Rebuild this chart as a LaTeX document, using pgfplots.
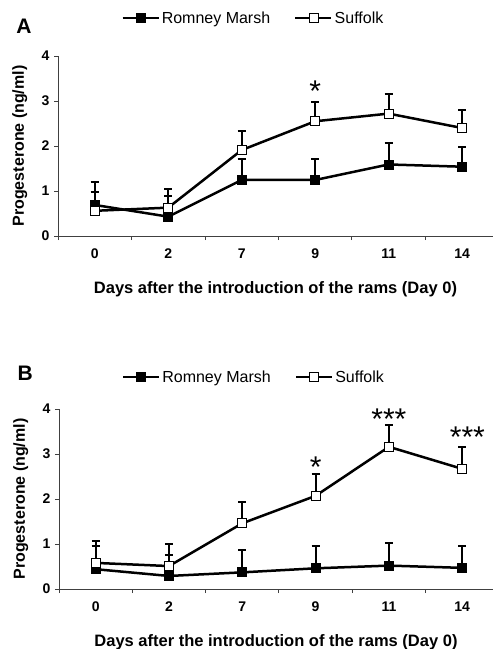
\documentclass[border=0pt]{standalone}
\usepackage{pgfplots}
\pgfplotsset{compat=1.18}
\usepackage{pgfplotstable}
\usepackage{fontspec}
\setmainfont{Liberation Sans}

\pgfplotstableread{
x y e
0 0.69 0.50
1 0.43 0.47
2 1.245 0.475
3 1.245 0.475
4 1.59 0.48
5 1.54 0.44
}\romA
\pgfplotstableread{
x y e
0 0.56 0.42
1 0.63 0.42
2 1.91 0.43
3 2.55 0.43
4 2.72 0.44
5 2.40 0.41
}\sufA
\pgfplotstableread{
x y e
0 0.44 0.52
1 0.29 0.46
2 0.37 0.50
3 0.46 0.50
4 0.52 0.50
5 0.47 0.49
}\romB
\pgfplotstableread{
x y e
0 0.58 0.49
1 0.51 0.48
2 1.46 0.48
3 2.07 0.48
4 3.16 0.48
5 2.67 0.48
}\sufB

\pgfplotsset{
  panel/.style={
    scale only axis, width=435pt, height=180pt,
    xmin=-0.5, xmax=5.42, ymin=0, ymax=4,
    axis lines*=left,
    axis line style={line width=0.9pt, draw=black!75},
    tick align=outside,
    /pgf/number format/assume math mode=true,
    xtick={0,1,2,3,4,5}, xticklabels={0,2,7,9,11,14},
    minor xtick={-0.5,0.5,1.5,2.5,3.5,4.5},
    major x tick style={draw=none},
    minor x tick style={line width=0.9pt, draw=black!75},
    minor tick length=4pt,
    ytick={0,1,2,3,4},
    y tick style={line width=0.9pt, draw=black!75},
    major tick length=4pt,
    xticklabel style={font=\fontsize{14}{16}\selectfont\bfseries, yshift=-5pt},
    yticklabel style={font=\fontsize{14}{16}\selectfont\bfseries, xshift=-1pt},
    xlabel={Days after the introduction of the rams (Day 0)},
    xlabel style={at={(axis description cs:0.5,-0.295)}, anchor=center, font=\fontsize{16.5}{19}\selectfont\bfseries},
    ylabel={Progesterone (ng/ml)},
    ylabel style={at={(axis description cs:-0.088,0.5)}, anchor=center, font=\fontsize{16}{19}\selectfont\bfseries},
    legend columns=2,
    legend style={draw=none, fill=none, font=\fontsize{16}{19}\selectfont, anchor=center,
      /tikz/every even column/.append style={column sep=22pt}},
    legend image code/.code={\draw[#1, mark repeat=2, mark phase=2] plot coordinates {(0pt,0pt) (18pt,0pt) (36pt,0pt)};},
    clip=false,
  },
  rom/.style={black, line width=2.5pt, mark=square*, mark options={solid, fill=black, line width=0.8pt, mark size=4.5pt},
    error bars/.cd, y dir=plus, y explicit, error mark=-,
    error bar style={line width=2pt, black},
    error mark options={rotate=90, line width=2pt, mark size=4pt, black}},
  suf/.style={black, line width=2.5pt, mark=square*, mark options={solid, fill=white, line width=0.8pt, mark size=4.5pt},
    error bars/.cd, y dir=plus, y explicit, error mark=-,
    error bar style={line width=2pt, black},
    error mark options={rotate=90, line width=2pt, mark size=4pt, black}},
}

\begin{document}
\begin{tikzpicture}
\path[use as bounding box] (0pt,0pt) rectangle (495pt,-649pt);
% Panel A
\begin{axis}[panel, at={(58pt,-236pt)}, anchor=south west,
  legend style={at={(axis description cs:0.449,1.211)}}]
\addplot[rom] table[x=x, y=y, y error=e] {\romA};
\addlegendentry{Romney Marsh}
\addplot[suf] table[x=x, y=y, y error=e] {\sufA};
\addlegendentry{Suffolk}
\node[font=\fontsize{21}{24}\selectfont\bfseries] at (axis description cs:-0.078,1.167) {A};
\node[font=\fontsize{30}{32}\selectfont] at (axis cs:3,3.22) {*};
\end{axis}
% Panel B
\begin{axis}[panel, at={(59pt,-589pt)}, anchor=south west, width=434pt,
  legend style={at={(axis description cs:0.449,1.178)}}]
\addplot[rom] table[x=x, y=y, y error=e] {\romB};
\addlegendentry{Romney Marsh}
\addplot[suf] table[x=x, y=y, y error=e] {\sufB};
\addlegendentry{Suffolk}
\node[font=\fontsize{21}{24}\selectfont\bfseries] at (axis description cs:-0.078,1.2) {B};
\node[font=\fontsize{30}{32}\selectfont] at (axis cs:3,2.71) {*};
\node[font=\fontsize{30}{32}\selectfont] at (axis cs:4,3.78) {***};
\node[font=\fontsize{30}{32}\selectfont] at (axis cs:5.07,3.37) {***};
\end{axis}
\end{tikzpicture}
\end{document}
